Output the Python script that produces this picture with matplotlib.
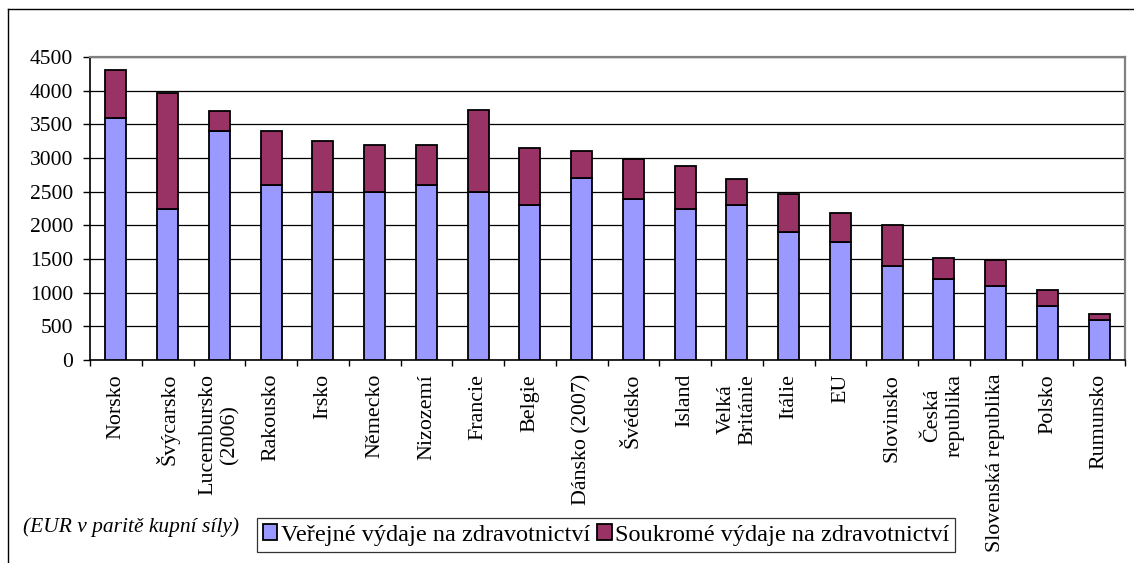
import matplotlib
matplotlib.use("Agg")
import matplotlib.pyplot as plt
from matplotlib.lines import Line2D
import numpy as np

categories = ["Norsko", "Švýcarsko", "Lucembursko\n(2006)", "Rakousko", "Irsko",
              "Německo", "Nizozemí", "Francie", "Belgie", "Dánsko (2007)",
              "Švédsko", "Island", "Velká\nBritánie", "Itálie", "EU",
              "Slovinsko", "Česká\nrepublika", "Slovenská republika", "Polsko", "Rumunsko"]
public = [3600, 2240, 3400, 2600, 2500, 2500, 2600, 2500, 2300, 2700,
          2390, 2240, 2300, 1900, 1750, 1390, 1200, 1100, 800, 600]
total = [4300, 3970, 3700, 3400, 3250, 3200, 3190, 3710, 3150, 3100,
         2980, 2880, 2690, 2460, 2190, 2000, 1520, 1480, 1040, 690]
private = [t - p for t, p in zip(total, public)]
yticks = [0, 500, 1000, 1500, 2000, 2500, 3000, 3500, 4000, 4500]
legend_labels = ["Veřejné výdaje na zdravotnictví", "Soukromé výdaje na zdravotnictví"]
note = "(EUR v paritě kupní síly)"

plt.rcParams['font.family'] = ['Liberation Serif', 'DejaVu Serif']

W, H = 1134, 563
fig = plt.figure(figsize=(W / 100, H / 100), dpi=100)
fig.patch.set_facecolor('white')

left, right, top, bottom = 90, 1125, 57, 360
ax = fig.add_axes([left / W, 1 - bottom / H, (right - left) / W, (bottom - top) / H])

x = np.arange(len(categories))
bw = 0.41
ax.bar(x, public, bw, color='#9999FF', edgecolor='black', linewidth=1.3,
       label=legend_labels[0], zorder=3)
ax.bar(x, private, bw, bottom=public, color='#993366', edgecolor='black',
       linewidth=1.3, label=legend_labels[1], zorder=3)

ax.set_xlim(-0.5, len(categories) - 0.5)
ax.set_ylim(0, 4500)
ax.set_yticks(yticks)
ax.set_yticklabels([str(v) for v in yticks], fontsize=15.5)
ax.yaxis.grid(True, color='black', linewidth=0.9, zorder=0)
ax.set_axisbelow(True)

ax.set_xticks(x)
ax.set_xticklabels(categories, rotation=90, fontsize=15.8, va='top', ha='center',
                   multialignment='center')
ax.tick_params(axis='x', which='major', length=0, pad=10)
ax.set_xticks(np.arange(-0.5, len(categories)), minor=True)
ax.tick_params(axis='x', which='minor', length=4, width=1, direction='out', color='black')
ax.tick_params(axis='y', length=5, width=1, direction='out', pad=7, color='black')

for s in ['left', 'bottom']:
    ax.spines[s].set_color('black')
    ax.spines[s].set_linewidth(1.2)
for s in ['top', 'right']:
    ax.spines[s].set_color('#808080')
    ax.spines[s].set_linewidth(1.6)

# outer chart frame
fig.add_artist(Line2D([7.5 / W, 7.5 / W], [0, 1 - 9 / H], color='black', linewidth=1.0))
fig.add_artist(Line2D([7.5 / W, 1], [1 - 9 / H, 1 - 9 / H], color='black', linewidth=1.0))

fig.text(23 / W, 1 - 527 / H, note, fontsize=15.5, style='italic', va='center', ha='left')

leg = fig.legend(loc='center', bbox_to_anchor=(606 / W, 1 - 535 / H), ncol=2,
                 fontsize=17.5, frameon=True, fancybox=False, edgecolor='black',
                 handlelength=0.6, handleheight=0.6, handletextpad=0.13,
                 columnspacing=0.3, borderpad=0.25, borderaxespad=0)
leg.get_frame().set_linewidth(0.9)
for h in leg.legend_handles:
    h.set_linewidth(1.3)

fig.savefig('out.png', dpi=100)
